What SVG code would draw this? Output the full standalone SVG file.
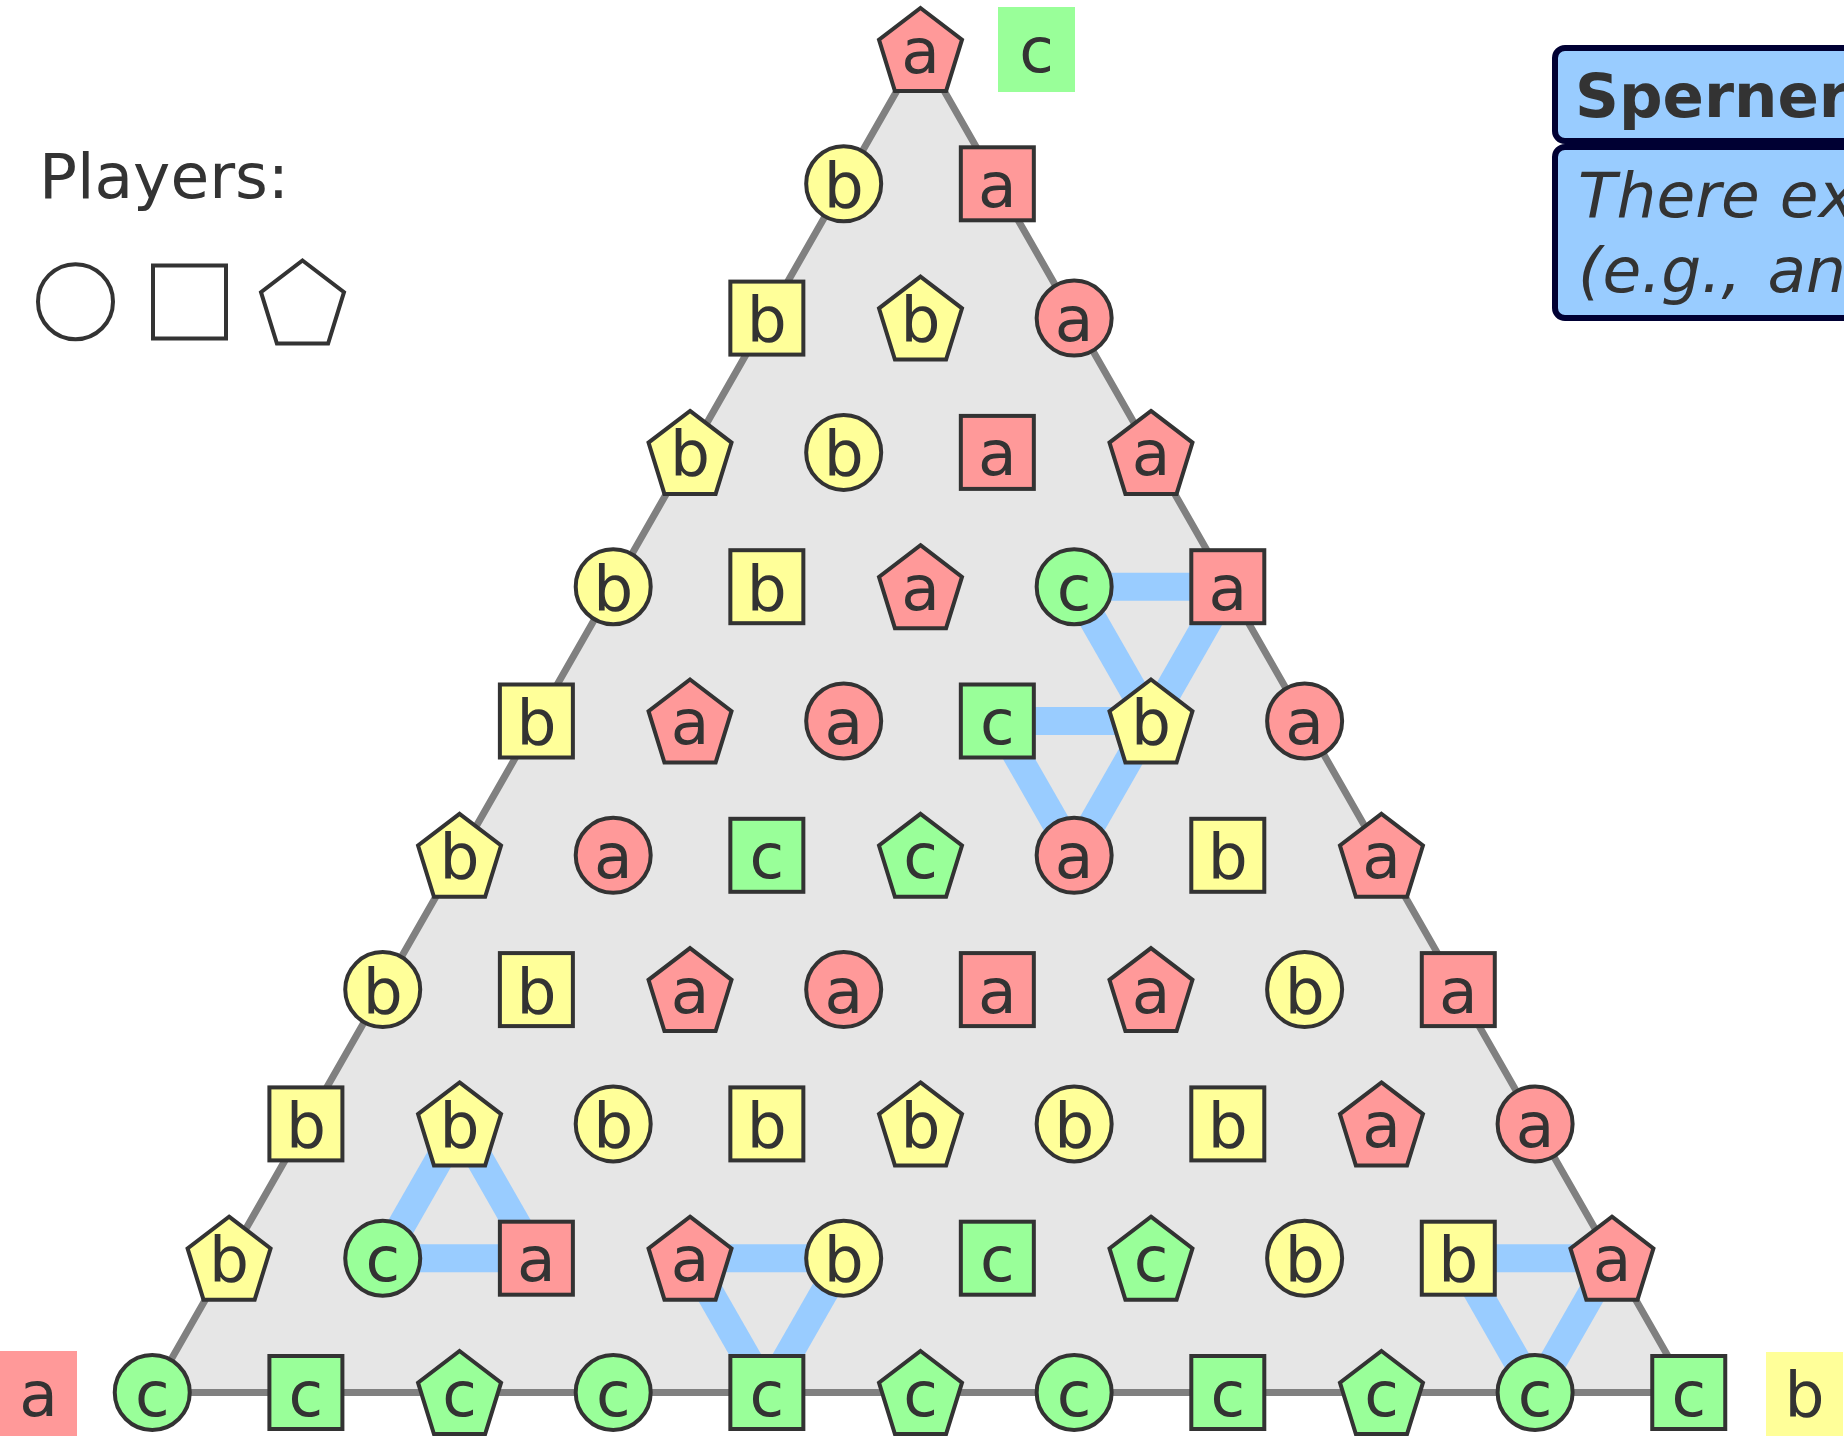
<svg xmlns="http://www.w3.org/2000/svg" xmlns:xlink="http://www.w3.org/1999/xlink" width="1844" height="1436" viewBox="0 0 1844 1436">
<style>
text{font-family:"DejaVu Sans","Liberation Sans",sans-serif;fill:#333333}
.lbl{font-size:63px;text-anchor:middle}
.n{stroke:#333333;stroke-width:4}
.a{fill:#ff9999}.b{fill:#ffff99}.c{fill:#99ff99}
.lg{fill:#ffffff;stroke:#333333;stroke-width:4}
.blue line{stroke:#99ccff;stroke-width:28}
.box{fill:#99ccff;stroke:#000033;stroke-width:6}
</style>
<defs>
<circle id="C" r="37.5"/>
<rect id="S" x="-36.5" y="-36.5" width="73" height="73"/>
<polygon id="P" points="0,-41.5 41.5,-9.8 25.6,41.5 -25.6,41.5 -41.5,-9.8"/>
</defs>
<g id="triangle"><polygon points="920.5,49.5 1688.75,1392.5 152.25,1392.5" fill="#e6e6e6" stroke="#808080" stroke-width="7" stroke-linejoin="round"/></g>
<g id="connectors" class="blue">
<line x1="1074.15" y1="586.7" x2="1227.8" y2="586.7"/><line x1="1074.15" y1="586.7" x2="1150.98" y2="721"/><line x1="1227.8" y1="586.7" x2="1150.98" y2="721"/>
<line x1="997.33" y1="721" x2="1150.98" y2="721"/><line x1="997.33" y1="721" x2="1074.15" y2="855.3"/><line x1="1150.98" y1="721" x2="1074.15" y2="855.3"/>
<line x1="459.55" y1="1123.9" x2="382.73" y2="1258.2"/><line x1="459.55" y1="1123.9" x2="536.38" y2="1258.2"/><line x1="382.73" y1="1258.2" x2="536.38" y2="1258.2"/>
<line x1="690.03" y1="1258.2" x2="843.68" y2="1258.2"/><line x1="690.03" y1="1258.2" x2="766.85" y2="1392.5"/><line x1="843.68" y1="1258.2" x2="766.85" y2="1392.5"/>
<line x1="1458.28" y1="1258.2" x2="1611.93" y2="1258.2"/><line x1="1458.28" y1="1258.2" x2="1535.1" y2="1392.5"/><line x1="1611.93" y1="1258.2" x2="1535.1" y2="1392.5"/>
</g>
<g id="nodes">
<g id="n0_0"><use href="#P" class="n a" x="920.5" y="49.5"/><text class="lbl" x="920.5" y="72.5">a</text></g>
<g id="n1_0"><use href="#C" class="n b" x="843.68" y="183.8"/><text class="lbl" x="843.68" y="206.8">b</text></g>
<g id="n1_1"><use href="#S" class="n a" x="997.33" y="183.8"/><text class="lbl" x="997.33" y="206.8">a</text></g>
<g id="n2_0"><use href="#S" class="n b" x="766.85" y="318.1"/><text class="lbl" x="766.85" y="341.1">b</text></g>
<g id="n2_1"><use href="#P" class="n b" x="920.5" y="318.1"/><text class="lbl" x="920.5" y="341.1">b</text></g>
<g id="n2_2"><use href="#C" class="n a" x="1074.15" y="318.1"/><text class="lbl" x="1074.15" y="341.1">a</text></g>
<g id="n3_0"><use href="#P" class="n b" x="690.03" y="452.4"/><text class="lbl" x="690.03" y="475.4">b</text></g>
<g id="n3_1"><use href="#C" class="n b" x="843.68" y="452.4"/><text class="lbl" x="843.68" y="475.4">b</text></g>
<g id="n3_2"><use href="#S" class="n a" x="997.33" y="452.4"/><text class="lbl" x="997.33" y="475.4">a</text></g>
<g id="n3_3"><use href="#P" class="n a" x="1150.98" y="452.4"/><text class="lbl" x="1150.98" y="475.4">a</text></g>
<g id="n4_0"><use href="#C" class="n b" x="613.2" y="586.7"/><text class="lbl" x="613.2" y="609.7">b</text></g>
<g id="n4_1"><use href="#S" class="n b" x="766.85" y="586.7"/><text class="lbl" x="766.85" y="609.7">b</text></g>
<g id="n4_2"><use href="#P" class="n a" x="920.5" y="586.7"/><text class="lbl" x="920.5" y="609.7">a</text></g>
<g id="n4_3"><use href="#C" class="n c" x="1074.15" y="586.7"/><text class="lbl" x="1074.15" y="609.7">c</text></g>
<g id="n4_4"><use href="#S" class="n a" x="1227.8" y="586.7"/><text class="lbl" x="1227.8" y="609.7">a</text></g>
<g id="n5_0"><use href="#S" class="n b" x="536.38" y="721"/><text class="lbl" x="536.38" y="744">b</text></g>
<g id="n5_1"><use href="#P" class="n a" x="690.03" y="721"/><text class="lbl" x="690.03" y="744">a</text></g>
<g id="n5_2"><use href="#C" class="n a" x="843.68" y="721"/><text class="lbl" x="843.68" y="744">a</text></g>
<g id="n5_3"><use href="#S" class="n c" x="997.33" y="721"/><text class="lbl" x="997.33" y="744">c</text></g>
<g id="n5_4"><use href="#P" class="n b" x="1150.98" y="721"/><text class="lbl" x="1150.98" y="744">b</text></g>
<g id="n5_5"><use href="#C" class="n a" x="1304.63" y="721"/><text class="lbl" x="1304.63" y="744">a</text></g>
<g id="n6_0"><use href="#P" class="n b" x="459.55" y="855.3"/><text class="lbl" x="459.55" y="878.3">b</text></g>
<g id="n6_1"><use href="#C" class="n a" x="613.2" y="855.3"/><text class="lbl" x="613.2" y="878.3">a</text></g>
<g id="n6_2"><use href="#S" class="n c" x="766.85" y="855.3"/><text class="lbl" x="766.85" y="878.3">c</text></g>
<g id="n6_3"><use href="#P" class="n c" x="920.5" y="855.3"/><text class="lbl" x="920.5" y="878.3">c</text></g>
<g id="n6_4"><use href="#C" class="n a" x="1074.15" y="855.3"/><text class="lbl" x="1074.15" y="878.3">a</text></g>
<g id="n6_5"><use href="#S" class="n b" x="1227.8" y="855.3"/><text class="lbl" x="1227.8" y="878.3">b</text></g>
<g id="n6_6"><use href="#P" class="n a" x="1381.45" y="855.3"/><text class="lbl" x="1381.45" y="878.3">a</text></g>
<g id="n7_0"><use href="#C" class="n b" x="382.73" y="989.6"/><text class="lbl" x="382.73" y="1012.6">b</text></g>
<g id="n7_1"><use href="#S" class="n b" x="536.38" y="989.6"/><text class="lbl" x="536.38" y="1012.6">b</text></g>
<g id="n7_2"><use href="#P" class="n a" x="690.03" y="989.6"/><text class="lbl" x="690.03" y="1012.6">a</text></g>
<g id="n7_3"><use href="#C" class="n a" x="843.68" y="989.6"/><text class="lbl" x="843.68" y="1012.6">a</text></g>
<g id="n7_4"><use href="#S" class="n a" x="997.33" y="989.6"/><text class="lbl" x="997.33" y="1012.6">a</text></g>
<g id="n7_5"><use href="#P" class="n a" x="1150.98" y="989.6"/><text class="lbl" x="1150.98" y="1012.6">a</text></g>
<g id="n7_6"><use href="#C" class="n b" x="1304.63" y="989.6"/><text class="lbl" x="1304.63" y="1012.6">b</text></g>
<g id="n7_7"><use href="#S" class="n a" x="1458.28" y="989.6"/><text class="lbl" x="1458.28" y="1012.6">a</text></g>
<g id="n8_0"><use href="#S" class="n b" x="305.9" y="1123.9"/><text class="lbl" x="305.9" y="1146.9">b</text></g>
<g id="n8_1"><use href="#P" class="n b" x="459.55" y="1123.9"/><text class="lbl" x="459.55" y="1146.9">b</text></g>
<g id="n8_2"><use href="#C" class="n b" x="613.2" y="1123.9"/><text class="lbl" x="613.2" y="1146.9">b</text></g>
<g id="n8_3"><use href="#S" class="n b" x="766.85" y="1123.9"/><text class="lbl" x="766.85" y="1146.9">b</text></g>
<g id="n8_4"><use href="#P" class="n b" x="920.5" y="1123.9"/><text class="lbl" x="920.5" y="1146.9">b</text></g>
<g id="n8_5"><use href="#C" class="n b" x="1074.15" y="1123.9"/><text class="lbl" x="1074.15" y="1146.9">b</text></g>
<g id="n8_6"><use href="#S" class="n b" x="1227.8" y="1123.9"/><text class="lbl" x="1227.8" y="1146.9">b</text></g>
<g id="n8_7"><use href="#P" class="n a" x="1381.45" y="1123.9"/><text class="lbl" x="1381.45" y="1146.9">a</text></g>
<g id="n8_8"><use href="#C" class="n a" x="1535.1" y="1123.9"/><text class="lbl" x="1535.1" y="1146.9">a</text></g>
<g id="n9_0"><use href="#P" class="n b" x="229.08" y="1258.2"/><text class="lbl" x="229.08" y="1281.2">b</text></g>
<g id="n9_1"><use href="#C" class="n c" x="382.73" y="1258.2"/><text class="lbl" x="382.73" y="1281.2">c</text></g>
<g id="n9_2"><use href="#S" class="n a" x="536.38" y="1258.2"/><text class="lbl" x="536.38" y="1281.2">a</text></g>
<g id="n9_3"><use href="#P" class="n a" x="690.03" y="1258.2"/><text class="lbl" x="690.03" y="1281.2">a</text></g>
<g id="n9_4"><use href="#C" class="n b" x="843.68" y="1258.2"/><text class="lbl" x="843.68" y="1281.2">b</text></g>
<g id="n9_5"><use href="#S" class="n c" x="997.33" y="1258.2"/><text class="lbl" x="997.33" y="1281.2">c</text></g>
<g id="n9_6"><use href="#P" class="n c" x="1150.98" y="1258.2"/><text class="lbl" x="1150.98" y="1281.2">c</text></g>
<g id="n9_7"><use href="#C" class="n b" x="1304.63" y="1258.2"/><text class="lbl" x="1304.63" y="1281.2">b</text></g>
<g id="n9_8"><use href="#S" class="n b" x="1458.28" y="1258.2"/><text class="lbl" x="1458.28" y="1281.2">b</text></g>
<g id="n9_9"><use href="#P" class="n a" x="1611.93" y="1258.2"/><text class="lbl" x="1611.93" y="1281.2">a</text></g>
<g id="n10_0"><use href="#C" class="n c" x="152.25" y="1392.5"/><text class="lbl" x="152.25" y="1415.5">c</text></g>
<g id="n10_1"><use href="#S" class="n c" x="305.9" y="1392.5"/><text class="lbl" x="305.9" y="1415.5">c</text></g>
<g id="n10_2"><use href="#P" class="n c" x="459.55" y="1392.5"/><text class="lbl" x="459.55" y="1415.5">c</text></g>
<g id="n10_3"><use href="#C" class="n c" x="613.2" y="1392.5"/><text class="lbl" x="613.2" y="1415.5">c</text></g>
<g id="n10_4"><use href="#S" class="n c" x="766.85" y="1392.5"/><text class="lbl" x="766.85" y="1415.5">c</text></g>
<g id="n10_5"><use href="#P" class="n c" x="920.5" y="1392.5"/><text class="lbl" x="920.5" y="1415.5">c</text></g>
<g id="n10_6"><use href="#C" class="n c" x="1074.15" y="1392.5"/><text class="lbl" x="1074.15" y="1415.5">c</text></g>
<g id="n10_7"><use href="#S" class="n c" x="1227.8" y="1392.5"/><text class="lbl" x="1227.8" y="1415.5">c</text></g>
<g id="n10_8"><use href="#P" class="n c" x="1381.45" y="1392.5"/><text class="lbl" x="1381.45" y="1415.5">c</text></g>
<g id="n10_9"><use href="#C" class="n c" x="1535.1" y="1392.5"/><text class="lbl" x="1535.1" y="1415.5">c</text></g>
<g id="n10_10"><use href="#S" class="n c" x="1688.75" y="1392.5"/><text class="lbl" x="1688.75" y="1415.5">c</text></g>
</g>
<g id="corner-top"><rect class="c" x="998" y="7" width="77" height="85"/><text class="lbl" x="1036.5" y="72">c</text></g>
<g id="corner-left"><rect class="a" x="0" y="1351" width="77" height="85"/><text class="lbl" x="38.5" y="1416">a</text></g>
<g id="corner-right"><rect class="b" x="1766" y="1352" width="77" height="85"/><text class="lbl" x="1804.5" y="1416">b</text></g>
<g id="legend">
<text x="39" y="198" font-size="63">Players:</text>
<use href="#C" class="lg" x="75.5" y="301.7"/>
<use href="#S" class="lg" x="189.5" y="302"/>
<use href="#P" class="lg" x="302.5" y="302"/>
</g>
<g id="title">
<rect class="box" x="1555" y="48" width="400" height="93" rx="10"/>
<rect class="box" x="1555" y="147" width="400" height="171" rx="10"/>
<text x="1575" y="117" font-size="61" font-weight="bold">Sperner's Lemma</text>
<text x="1578" y="217" font-size="63" font-style="italic">There exists</text>
<text x="1578" y="292" font-size="63" font-style="italic">(e.g., <tspan dx="6">any</tspan></text>
</g>
</svg>
